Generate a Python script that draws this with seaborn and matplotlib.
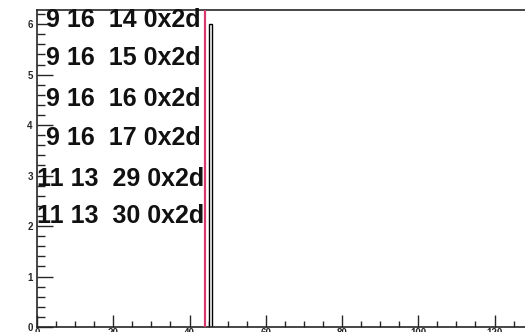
import numpy as np
import matplotlib
matplotlib.use("Agg")
import matplotlib.pyplot as plt
from matplotlib.ticker import MultipleLocator
import seaborn as sns

# Histogram content: one filled bin
bin_centers = [45.5]
bin_counts = [6]
cut_value = 44

# Annotation lines printed in the upper left
labels = ["9 16  14 0x2d", "9 16  15 0x2d", "9 16  16 0x2d",
          "9 16  17 0x2d", "11 13  29 0x2d", "11 13  30 0x2d"]

x_ticks = [0, 20, 40, 60, 80, 100, 120]
y_ticks = [0, 1, 2, 3, 4, 5, 6]

sns.set_style("ticks")
plt.rcParams["font.family"] = ["Liberation Sans", "DejaVu Sans"]

fig = plt.figure(figsize=(5.25, 3.32), dpi=100)
ax = fig.add_axes([37 / 525, 5 / 332, 1 - 37 / 525, 317 / 332])

sns.histplot(x=bin_centers, weights=bin_counts, binwidth=1, binrange=(45, 46),
             color="white", edgecolor="black", linewidth=1.0, alpha=1.0, ax=ax)
ax.axvline(cut_value, color="#d9386e", linewidth=1.6, zorder=3)

ax.set_xlim(0, 128)
ax.set_ylim(0, 6.28)
ax.set_xticks(x_ticks)
ax.set_yticks(y_ticks)
ax.xaxis.set_minor_locator(MultipleLocator(5))
ax.yaxis.set_minor_locator(MultipleLocator(0.2))
ax.tick_params(axis="y", which="major", direction="in", length=11.5, width=1.0,
               labelsize=7, pad=3)
ax.tick_params(axis="y", which="minor", direction="in", length=5.8, width=1.0)
ax.tick_params(axis="x", which="major", direction="in", length=8.6, width=1.0,
               labelsize=7, pad=1)
ax.tick_params(axis="x", which="minor", direction="in", length=4.3, width=1.0)
for lab in ax.get_xticklabels() + ax.get_yticklabels():
    lab.set_fontweight("bold")
ax.set_xlabel("")
ax.set_ylabel("")
ax.spines["right"].set_visible(False)
for side in ("left", "bottom", "top"):
    ax.spines[side].set_linewidth(1.2)

# baseline positions (axes fraction) and left offsets for each line
y_pos = [0.946, 0.827, 0.697, 0.574, 0.445, 0.328]
x_pos = [0.018, 0.018, 0.018, 0.018, 0.0, 0.0]
for text, xp, yp in zip(labels, x_pos, y_pos):
    ax.text(xp, yp, text, transform=ax.transAxes, fontsize=18,
            fontweight="bold", va="baseline", ha="left", color="#111111")

fig.savefig("out.png", dpi=100)
